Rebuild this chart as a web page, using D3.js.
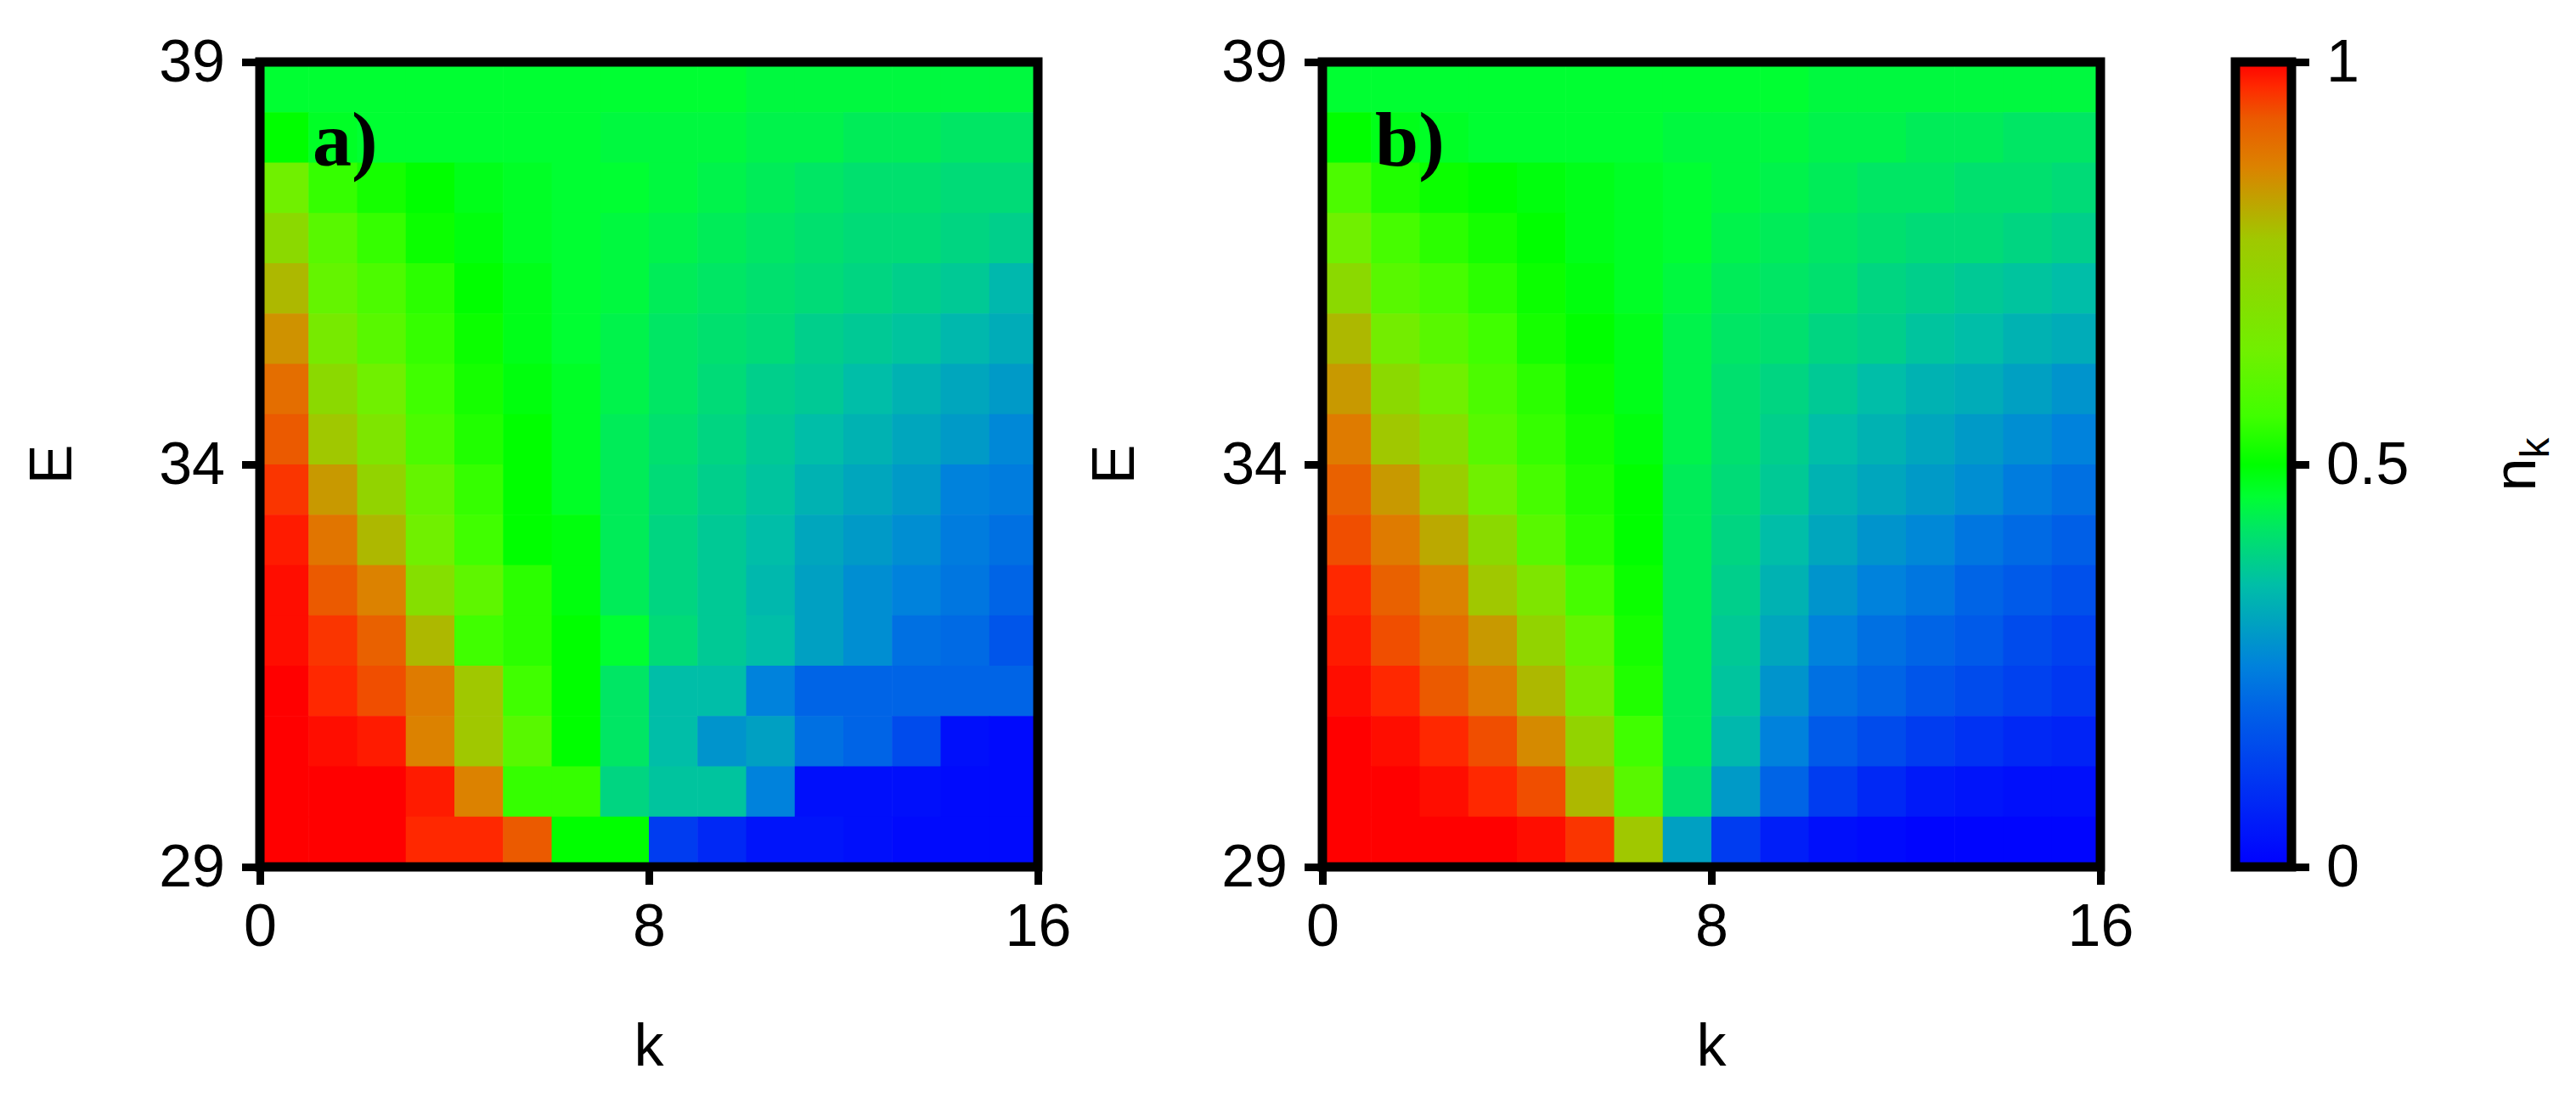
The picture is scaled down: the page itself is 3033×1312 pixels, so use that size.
<!DOCTYPE html>
<html><head><meta charset="utf-8">
<script src="https://cdn.jsdelivr.net/npm/d3@7"></script>
<style>body{margin:0;background:#fff}</style>
</head><body>
<div id="chart"></div>
<script>
// heatmap values n_k, rows listed from top (E near 39) down to bottom (E near 29)
var panelA = [
[0.46,0.46,0.46,0.46,0.46,0.46,0.46,0.46,0.46,0.46,0.45,0.45,0.45,0.45,0.45,0.45],
[0.5,0.47,0.46,0.46,0.46,0.46,0.46,0.45,0.45,0.45,0.44,0.44,0.43,0.43,0.42,0.42],
[0.64,0.55,0.52,0.5,0.48,0.47,0.46,0.46,0.45,0.44,0.43,0.42,0.41,0.41,0.40,0.40],
[0.72,0.6,0.55,0.51,0.49,0.47,0.46,0.45,0.44,0.43,0.42,0.41,0.40,0.40,0.39,0.38],
[0.8,0.62,0.58,0.54,0.5,0.48,0.46,0.45,0.43,0.42,0.41,0.40,0.39,0.38,0.37,0.34],
[0.85,0.66,0.6,0.55,0.51,0.48,0.46,0.44,0.42,0.41,0.40,0.38,0.37,0.36,0.34,0.32],
[0.9,0.72,0.64,0.56,0.52,0.49,0.47,0.44,0.42,0.40,0.38,0.37,0.35,0.33,0.31,0.29],
[0.93,0.78,0.68,0.58,0.53,0.5,0.47,0.43,0.41,0.39,0.37,0.35,0.33,0.31,0.29,0.26],
[0.96,0.84,0.74,0.62,0.55,0.5,0.47,0.43,0.4,0.38,0.36,0.33,0.31,0.29,0.25,0.24],
[0.98,0.89,0.8,0.64,0.56,0.5,0.49,0.43,0.39,0.37,0.35,0.31,0.29,0.27,0.24,0.22],
[0.99,0.93,0.87,0.7,0.61,0.54,0.49,0.43,0.39,0.37,0.34,0.3,0.27,0.25,0.23,0.2],
[0.99,0.96,0.92,0.8,0.56,0.54,0.5,0.46,0.4,0.37,0.35,0.3,0.27,0.22,0.21,0.17],
[1,0.97,0.94,0.88,0.78,0.56,0.5,0.42,0.35,0.35,0.25,0.2,0.2,0.2,0.2,0.2],
[1,0.99,0.98,0.87,0.78,0.6,0.5,0.42,0.35,0.28,0.3,0.22,0.2,0.15,0.03,0.02],
[1,1,1,0.98,0.87,0.55,0.55,0.39,0.36,0.36,0.25,0.03,0.03,0.03,0.02,0.02],
[1,1,1,0.97,0.97,0.93,0.5,0.5,0.12,0.08,0.04,0.04,0.03,0.02,0.02,0.02]
];
var panelB = [
[0.46,0.46,0.46,0.46,0.46,0.46,0.46,0.46,0.46,0.46,0.45,0.45,0.45,0.45,0.45,0.45],
[0.5,0.48,0.47,0.46,0.46,0.46,0.46,0.45,0.45,0.45,0.44,0.44,0.43,0.43,0.42,0.42],
[0.58,0.53,0.51,0.5,0.49,0.48,0.47,0.46,0.45,0.44,0.43,0.42,0.42,0.41,0.41,0.40],
[0.64,0.57,0.54,0.52,0.5,0.48,0.47,0.46,0.44,0.43,0.42,0.41,0.40,0.40,0.39,0.38],
[0.72,0.6,0.57,0.54,0.51,0.49,0.47,0.45,0.43,0.42,0.41,0.39,0.38,0.37,0.36,0.35],
[0.8,0.65,0.6,0.56,0.52,0.5,0.48,0.44,0.42,0.41,0.39,0.38,0.36,0.35,0.33,0.32],
[0.84,0.72,0.64,0.58,0.54,0.51,0.48,0.44,0.41,0.39,0.37,0.35,0.33,0.32,0.3,0.28],
[0.88,0.78,0.7,0.6,0.55,0.52,0.49,0.44,0.41,0.38,0.35,0.33,0.31,0.29,0.27,0.25],
[0.92,0.84,0.76,0.64,0.57,0.53,0.5,0.43,0.4,0.37,0.33,0.31,0.29,0.27,0.24,0.22],
[0.94,0.88,0.82,0.72,0.6,0.54,0.5,0.43,0.39,0.35,0.31,0.28,0.26,0.23,0.21,0.19],
[0.97,0.92,0.87,0.78,0.68,0.57,0.51,0.43,0.38,0.33,0.28,0.25,0.23,0.2,0.18,0.16],
[0.98,0.94,0.9,0.84,0.74,0.62,0.52,0.43,0.37,0.31,0.25,0.22,0.2,0.18,0.15,0.13],
[0.99,0.97,0.93,0.88,0.8,0.66,0.53,0.43,0.36,0.28,0.22,0.2,0.17,0.15,0.13,0.11],
[1,0.99,0.97,0.94,0.86,0.74,0.56,0.43,0.34,0.25,0.18,0.15,0.12,0.1,0.08,0.07],
[1,1,0.99,0.97,0.94,0.8,0.6,0.41,0.29,0.2,0.12,0.08,0.05,0.04,0.03,0.03],
[1,1,1,1,0.99,0.96,0.78,0.3,0.12,0.06,0.03,0.02,0.01,0.01,0.01,0.01]
];
var xTicks = [0, 8, 16];
var yTicks = [29, 34, 39];
var cbTicks = [0, 0.5, 1];
var cbTickLabels = ["0", "0.5", "1"];
var colorStops = [0, 0.2, 0.25, 0.35, 0.42, 0.46, 0.5, 0.56, 0.64, 0.78, 0.87, 0.93, 0.97, 1];
var colorValues = ["#0000ff","#0064e6","#0082dc","#00bea8","#00e664","#00ff32","#00ff00","#40ff00","#70f000","#a0c800","#dc8200","#eb5a00","#ff2800","#ff0000"];

var W = 3033, H = 1312;
var color = d3.scaleLinear().domain(colorStops).range(colorValues).clamp(true);
var svg = d3.select("#chart").append("svg").attr("width", W).attr("height", H);
var font = "Liberation Sans, Arial, sans-serif";
var fs = 70;

function drawPanel(data, left, label){
    var x = d3.scaleLinear().domain([0, 16]).range([left, left + 916]);
    var y = d3.scaleLinear().domain([29, 39]).range([1021, 73]);
    var nR = data.length, dy = 10 / nR;
    var g = svg.append("g");
    data.forEach((row, ri) => {
        row.forEach((v, ci) => {
            var e0 = 39 - (ri + 1) * dy;
            g.append("rect")
                .attr("x", x(ci)).attr("y", y(e0 + dy))
                .attr("width", x(ci + 1) - x(ci) + 0.6)
                .attr("height", y(e0) - y(e0 + dy) + 0.6)
                .attr("fill", color(v));
        });
    });
    g.append("rect").attr("x", x(0)).attr("y", y(39)).attr("width", x(16) - x(0)).attr("height", y(29) - y(39))
        .attr("fill", "none").attr("stroke", "#000").attr("stroke-width", 11);
    var xa = g.append("g").attr("transform", `translate(0,${y(29) + 5})`)
        .call(d3.axisBottom(x).tickValues(xTicks).tickSize(16).tickSizeOuter(0).tickPadding(22));
    var ya = g.append("g").attr("transform", `translate(${x(0) - 5},0)`)
        .call(d3.axisLeft(y).tickValues(yTicks).tickSize(16).tickSizeOuter(0).tickPadding(20));
    [xa, ya].forEach(a => {
        a.select(".domain").remove();
        a.selectAll("line").attr("stroke-width", 9);
        a.selectAll("text").attr("font-size", fs).attr("font-family", font).attr("fill", "#000");
    });
    g.append("text").attr("x", (x(0) + x(16)) / 2).attr("y", 1255).attr("text-anchor", "middle")
        .attr("font-size", fs).attr("font-family", font).text("k");
    g.append("text").attr("transform", `translate(${left - 222},${y(34)}) rotate(-90)`).attr("text-anchor", "middle")
        .attr("font-size", fs).attr("font-family", font).text("E");
    g.append("text").attr("x", left + 62).attr("y", 195).attr("font-size", 92).attr("font-weight", "bold")
        .attr("font-family", "Liberation Serif, Times New Roman, serif").text(label);
}
drawPanel(panelA, 306, "a)");
drawPanel(panelB, 1557, "b)");

// colorbar
var cbY = d3.scaleLinear().domain([0, 1]).range([1021, 73]);
var defs = svg.append("defs");
var grad = defs.append("linearGradient").attr("id", "cb").attr("x1", 0).attr("x2", 0).attr("y1", 1).attr("y2", 0);
colorStops.forEach((s, i) => grad.append("stop").attr("offset", s).attr("stop-color", colorValues[i]));
svg.append("rect").attr("x", 2632).attr("y", 73).attr("width", 66).attr("height", 948)
    .attr("fill", "url(#cb)").attr("stroke", "#000").attr("stroke-width", 11);
var cba = svg.append("g").attr("transform", "translate(2703,0)")
    .call(d3.axisRight(cbY).tickValues(cbTicks).tickFormat((d, i) => cbTickLabels[i]).tickSize(16).tickSizeOuter(0).tickPadding(20));
cba.select(".domain").remove();
cba.selectAll("line").attr("stroke-width", 9);
cba.selectAll("text").attr("font-size", fs).attr("font-family", font);
var nk = svg.append("text").attr("transform", `translate(2985,${cbY(0.5)}) rotate(-90)`).attr("text-anchor", "middle")
    .attr("font-size", fs).attr("font-family", font);
nk.append("tspan").text("n");
nk.append("tspan").attr("font-size", 48).attr("dy", 16).text("k");
</script>
</body></html>
